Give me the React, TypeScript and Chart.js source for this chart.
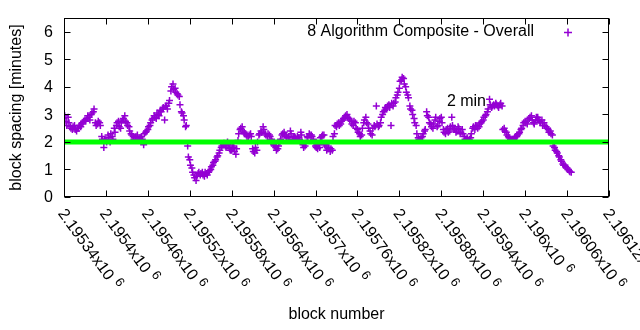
import { useEffect, useRef } from "react";
import { Chart, registerables } from "chart.js";

Chart.register(...registerables);

// ---- data ----
const blockStart = 2195340;
const blockStep = 3;
// readings on the main track (every 3rd block)
const spacingMinutes = [
  2.85, 2.75, 2.9, 2.55, 2.45, 2.6, 2.4, 2.5, 2.55, 2.7,
  2.8, 2.85, 2.9, 3.0, 3.1, 2.7, 2.65, 2.7, 2.2, 1.8,
  2.1, 2.25, 2.0, 2.2, 2.5, 2.6, 2.75, 2.5, 2.8, 2.95,
  2.7, 2.55, 2.3, 2.2, 2.15, 2.25, 2.1, 2.2, 1.9, 2.35,
  2.45, 2.6, 2.8, 2.95, 2.85, 3.0, 3.15, 3.2, 2.8, 3.3,
  3.4, 3.85, 4.1, 3.95, 3.75, 3.65, 3.1, 2.95, 2.55, 1.85,
  1.35, 1.05, 0.8, 0.6, 0.85, 0.8, 0.9, 0.75, 0.85, 0.9,
  1.0, 1.15, 1.3, 1.45, 1.6, 1.8, 1.9, 1.85, 2.0, 1.75,
  1.7, 1.8, 1.55, 2.05, 2.45, 2.55, 2.35, 2.25, 2.2, 2.3,
  1.75, 1.6, 1.7, 2.25, 2.4, 2.55, 2.3, 2.2, 2.25, 2.1,
  1.9, 1.8, 1.75, 2.0, 2.25, 2.35, 2.2, 2.15, 2.4, 2.1,
  2.2, 2.1, 2.15, 2.35, 1.9, 1.85, 2.2, 2.3, 2.25, 2.1,
  1.85, 1.75, 1.8, 2.2, 2.25, 1.85, 1.75, 1.65, 1.7, 2.3,
  2.55, 2.7, 2.65, 2.8, 2.9, 3.0, 2.85, 2.75, 2.6, 2.7,
  2.45, 2.3, 2.25, 2.7, 2.9, 2.65, 2.4, 2.25, 2.6, 3.3,
  2.55, 2.7, 3.0, 3.15, 3.2, 3.35, 2.6, 3.3, 3.45, 3.7,
  3.95, 4.25, 4.3, 4.0, 3.7, 3.3, 3.15, 2.85, 2.6, 2.15,
  2.05, 2.2, 2.4, 3.1, 2.9, 2.65, 2.5, 2.8, 2.55, 2.75,
  2.9, 2.45, 2.3, 2.5, 2.4, 2.9, 2.5, 2.35, 2.55, 2.3,
  2.45, 2.2, 2.1, 2.05, 2.15, 2.5, 2.45, 2.6, 2.55, 2.7,
  2.8, 2.95, 3.1, 3.55, 3.25, 3.35, 3.4, 3.3, 3.35, 3.3,
  2.5, 2.35, 2.2, 2.1, 2.05, 2.15, 2.2, 2.3, 2.45, 2.6,
  2.75, 2.65, 2.85, 2.95, 2.7, 2.8, 2.9, 2.75, 2.8, 2.7,
  2.55, 2.45, 2.4, 2.25, 1.8, 1.65, 1.5, 1.35, 1.2, 1.15,
  1.05, 0.95, 0.9,
];
// readings of the scattered points lying between the main ones (offset by 1 block)
const spacingMinutesMid = [
  2.95, 2.6, 2.7, 2.5, 2.55, 2.45, 2.5, 2.6, 2.65, 2.75,
  2.75, 2.95, 2.8, 3.05, 3.2, 2.6, 2.75, 2.6, 2.1, 2.05,
  2.0, 2.15, 2.3, 2.1, 2.35, 2.7, 2.55, 2.7, 2.85, 2.75,
  2.6, 2.4, 2.25, 2.1, 2.2, 2.05, 2.15, 2.1, 2.3, 2.4,
  2.55, 2.7, 2.85, 2.9, 3.05, 2.95, 3.1, 3.25, 3.3, 3.2,
  3.5, 4.0, 3.9, 3.8, 3.7, 3.35, 3.05, 2.8, 2.6, 1.45,
  1.15, 0.9, 0.7, 0.75, 0.9, 0.85, 0.8, 0.9, 0.8, 0.95,
  1.1, 1.25, 1.35, 1.5, 1.7, 1.85, 1.95, 1.8, 1.9, 1.7,
  1.85, 1.65, 1.75, 2.3, 2.5, 2.4, 2.3, 2.2, 2.25, 2.2,
  1.65, 1.8, 2.0, 2.3, 2.35, 2.45, 2.25, 2.3, 2.2, 2.0,
  1.85, 1.7, 1.85, 2.1, 2.3, 2.25, 2.15, 2.2, 2.3, 2.2,
  2.15, 2.2, 2.1, 2.25, 1.8, 1.95, 2.15, 2.25, 2.2, 1.95,
  1.8, 1.9, 2.15, 2.25, 1.9, 1.7, 1.8, 1.75, 2.2, 2.6,
  2.65, 2.6, 2.75, 2.85, 2.95, 2.9, 2.8, 2.65, 2.75, 2.5,
  2.35, 2.2, 2.5, 2.8, 2.7, 2.5, 2.3, 2.5, 2.55, 2.65,
  2.6, 2.9, 3.1, 3.25, 3.3, 3.25, 3.4, 3.4, 3.6, 3.8,
  4.2, 4.35, 4.1, 3.8, 3.6, 3.2, 3.0, 2.7, 2.3, 2.1,
  2.15, 2.3, 2.45, 2.95, 2.7, 2.55, 2.65, 2.9, 2.6, 2.85,
  2.7, 2.35, 2.45, 2.35, 2.55, 2.6, 2.45, 2.4, 2.5, 2.35,
  2.3, 2.1, 2.15, 2.1, 2.3, 2.55, 2.6, 2.5, 2.65, 2.75,
  2.9, 3.0, 3.2, 3.35, 3.3, 3.3, 3.35, 3.25, 3.4, 2.45,
  2.4, 2.25, 2.15, 2.05, 2.1, 2.2, 2.25, 2.35, 2.5, 2.7,
  2.7, 2.8, 2.9, 2.8, 2.65, 2.9, 2.8, 2.7, 2.6, 2.6,
  2.5, 2.35, 2.3, 1.85, 1.7, 1.6, 1.45, 1.3, 1.15, 1.1,
  1.0, 0.92,
];
const midOffset = 1;
const xTickValues = [
  2195340, 2195400, 2195460, 2195520, 2195580, 2195640, 2195700,
  2195760, 2195820, 2195880, 2195940, 2196000, 2196060, 2196120,
];
const xTickLabels = [
  "2.19534", "2.1954", "2.19546", "2.19552", "2.19558", "2.19564", "2.1957",
  "2.19576", "2.19582", "2.19588", "2.19594", "2.196", "2.19606", "2.19612",
];
const yTickValues = [0, 1, 2, 3, 4, 5, 6];
const xMin = 2195340;
const xMax = 2196120;
const yMin = 0;
const yMax = 6.5;
const targetMinutes = 2;
const seriesLabel = "8 Algorithm Composite - Overall";
const noteText = "2 min";
const noteBlock = 2195888;
const noteMinutes = 3.45;
const xTitle = "block number";
const yTitle = "block spacing [minutes]";

const PURPLE = "#9400d3";
const GREEN = "#00ff00";
const FONT = "Liberation Sans, Arial, sans-serif";

const decorPlugin = {
  id: "decor",
  afterDraw(chart: any) {
    const { ctx, chartArea: a, scales } = chart;
    const x = scales.x;
    const y = scales.y;
    ctx.save();
    ctx.strokeStyle = "#000";
    ctx.lineWidth = 1;
    const L = Math.round(a.left) + 0.5;
    const R = Math.round(a.right) - 0.5;
    const T = Math.round(a.top) + 0.5;
    const B = Math.round(a.bottom) - 0.5;
    ctx.strokeRect(L, T, R - L, B - T);
    ctx.beginPath();
    for (const v of yTickValues) {
      const py = Math.round(y.getPixelForValue(v)) + 0.5;
      ctx.moveTo(L, py);
      ctx.lineTo(L + 6, py);
      ctx.moveTo(R, py);
      ctx.lineTo(R - 6, py);
    }
    for (const v of xTickValues) {
      const px = Math.round(x.getPixelForValue(v)) + 0.5;
      ctx.moveTo(px, B);
      ctx.lineTo(px, B - 6);
      ctx.moveTo(px, T);
      ctx.lineTo(px, T + 6);
    }
    ctx.stroke();

    ctx.fillStyle = "#000";
    ctx.font = `16px ${FONT}`;
    ctx.textAlign = "right";
    ctx.textBaseline = "middle";
    for (const v of yTickValues) {
      ctx.fillText(String(v), a.left - 11, y.getPixelForValue(v) + 1);
    }
    const ang = (54 * Math.PI) / 180;
    xTickValues.forEach((v, i) => {
      const px = x.getPixelForValue(v);
      ctx.save();
      ctx.translate(px - 3, a.bottom + 14);
      ctx.rotate(ang);
      ctx.textAlign = "left";
      ctx.textBaseline = "middle";
      ctx.font = `16px ${FONT}`;
      const main = xTickLabels[i] + "x10";
      ctx.fillText(main, 0, 0);
      const w = ctx.measureText(main).width;
      ctx.font = `13px ${FONT}`;
      ctx.fillText("6", w + 5, -5);
      ctx.restore();
    });
    ctx.font = `16px ${FONT}`;
    ctx.textAlign = "center";
    ctx.textBaseline = "middle";
    ctx.fillText(xTitle, (a.left + a.right) / 2, 315);
    ctx.save();
    ctx.translate(17, (a.top + a.bottom) / 2);
    ctx.rotate(-Math.PI / 2);
    ctx.fillText(yTitle, 0, 0);
    ctx.restore();
    ctx.textAlign = "right";
    ctx.fillText(seriesLabel, 534, 32);
    ctx.strokeStyle = PURPLE;
    ctx.lineWidth = 1.5;
    ctx.beginPath();
    ctx.moveTo(564, 32.5);
    ctx.lineTo(572, 32.5);
    ctx.moveTo(568, 28.5);
    ctx.lineTo(568, 36.5);
    ctx.stroke();
    ctx.fillStyle = "#000";
    ctx.textAlign = "left";
    ctx.fillText(noteText, x.getPixelForValue(noteBlock), y.getPixelForValue(noteMinutes));
    ctx.restore();
  },
};

export default function App() {
  const canvasRef = useRef<HTMLCanvasElement | null>(null);

  useEffect(() => {
    if (!canvasRef.current) return;
    const points = [
      ...spacingMinutes.map((v, i) => ({ x: blockStart + i * blockStep, y: v })),
      ...spacingMinutesMid.map((v, i) => ({ x: blockStart + i * blockStep + midOffset, y: v })),
    ];
    const chart = new Chart(canvasRef.current, {
      type: "scatter",
      data: {
        datasets: [
          {
            type: "line",
            label: "2 min",
            data: [
              { x: xMin, y: targetMinutes },
              { x: xMax, y: targetMinutes },
            ],
            borderColor: GREEN,
            backgroundColor: GREEN,
            borderWidth: 5,
            pointRadius: 0,
            showLine: true,
            fill: false,
          } as any,
          {
            label: seriesLabel,
            data: points,
            pointStyle: "cross",
            pointRadius: 3.5,
            pointBorderWidth: 1.5,
            borderColor: PURPLE,
            backgroundColor: PURPLE,
            showLine: false,
          } as any,
        ],
      },
      options: {
        animation: false,
        responsive: true,
        maintainAspectRatio: false,
        layout: { padding: { top: 18, right: 31, left: 0, bottom: 0 } },
        plugins: {
          legend: { display: false },
          tooltip: { enabled: false },
        },
        scales: {
          x: {
            type: "linear",
            min: xMin,
            max: xMax,
            ticks: { display: false },
            grid: { display: false },
            border: { display: false },
            afterFit: (s: any) => {
              s.height = 133;
            },
          },
          y: {
            min: yMin,
            max: yMax,
            ticks: { display: false },
            grid: { display: false },
            border: { display: false },
            afterFit: (s: any) => {
              s.width = 64;
            },
          },
        },
      },
      plugins: [decorPlugin],
    });
    return () => chart.destroy();
  }, []);

  return (
    <div style={{ position: "absolute", left: 0, top: 0, width: 640, height: 330, background: "#fff" }}>
      <canvas ref={canvasRef} />
    </div>
  );
}
